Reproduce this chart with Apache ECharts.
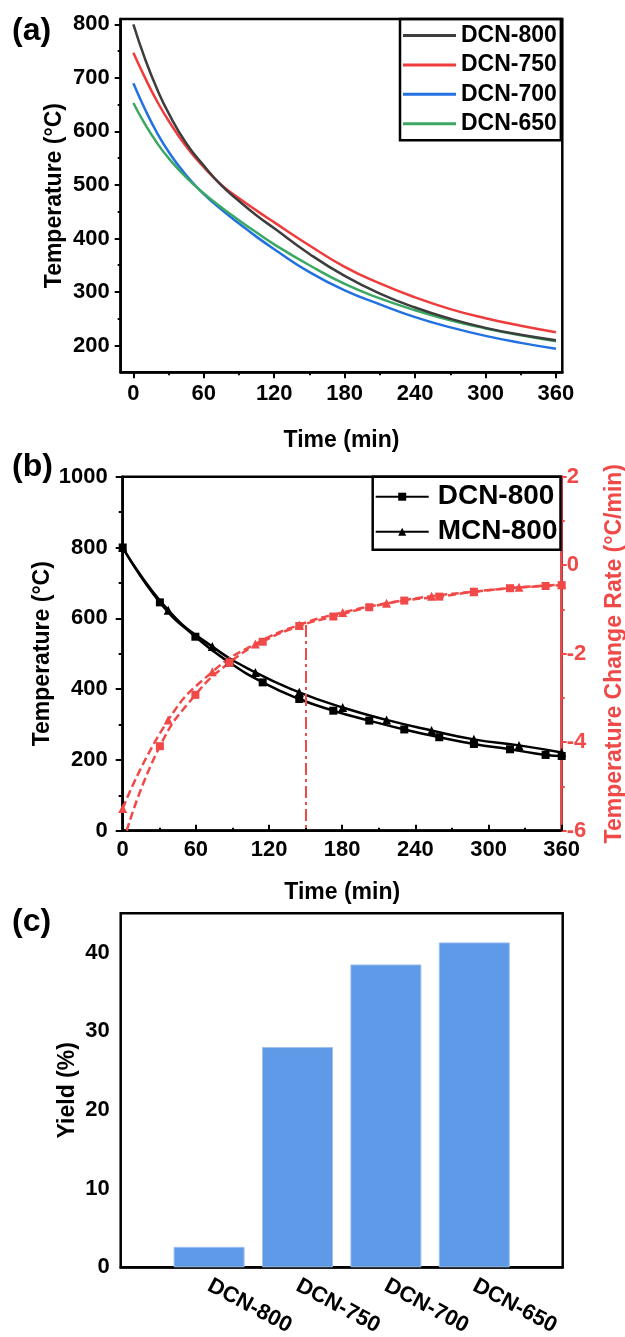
<!DOCTYPE html>
<html>
<head>
<meta charset="utf-8">
<script src="https://cdn.jsdelivr.net/npm/echarts@6/dist/echarts.min.js"></script>
<style>
  html, body { margin: 0; padding: 0; background: #fff; }
  #chart { width: 625px; height: 1337px; }
</style>
</head>
<body>
<div id="chart"></div>
<script>
// ---- (a) cooling curves ----
const timeA = [0, 10, 20, 30, 45, 60, 75, 90, 105, 120, 150, 180, 210, 240, 270, 300, 330, 360];
const dcn800A = [800, 735, 680, 634, 578, 536, 499, 470, 443, 419, 371, 330, 297, 271, 250, 233, 220, 210];
const dcn750A = [747, 700, 657, 620, 572, 533, 500, 475, 452, 430, 387, 347, 316, 290, 268, 251, 237, 225];
const dcn700A = [690, 641, 598, 562, 518, 483, 454, 428, 403, 380, 337, 303, 277, 253, 234, 218, 205, 194];
const dcn650A = [653, 613, 579, 550, 514, 484, 458, 434, 411, 389, 350, 315, 288, 266, 247, 232, 219, 208];
const namesA = ['DCN-800', 'DCN-750', 'DCN-700', 'DCN-650'];
const xTicksA = [0, 60, 120, 180, 240, 300, 360];
const xMinorA = [30, 90, 150, 210, 270, 330];
const yTicksA = [200, 300, 400, 500, 600, 700, 800];
const yMinorA = [250, 350, 450, 550, 650, 750];

// ---- (b) DCN-800 vs MCN-800 ----
const timeDcnB = [0, 30.5, 59.6, 87.6, 114.8, 144.8, 172.7, 202.2, 230.9, 259.6, 288, 317.6, 346.8, 360];
const dcnTempB = [800, 645, 548, 475, 419, 372, 339, 311, 286, 264, 245, 230, 214, 211];
const timeMcnB = [0, 37.3, 73.5, 108.8, 144.8, 180.4, 216.4, 253.3, 288, 325, 360];
const mcnTempB = [800, 623, 520, 447, 391, 348, 313, 283, 258, 241, 221];
const timeDcnRateB = [3.3, 30.5, 59.6, 87.6, 114.8, 144.8, 172.7, 202.2, 230.9, 259.6, 288, 317.6, 346.8, 360];
const dcnRateB = [-6, -4.09, -2.93, -2.2, -1.73, -1.375, -1.16, -0.95, -0.8, -0.71, -0.6, -0.52, -0.47, -0.45];
const mcnRateB = [-5.5, -3.5, -2.41, -1.78, -1.35, -1.07, -0.86, -0.7, -0.6, -0.5, -0.44];
const markTimeB = 150;
const markRateB = -1.35;

// ---- (c) yield ----
const yieldNames = ['DCN-800', 'DCN-750', 'DCN-700', 'DCN-650'];
const yieldVals = [2.6, 28.0, 38.5, 41.3];
const yTicksC = [0, 10, 20, 30, 40];
const yMinorC = [5, 15, 25, 35];

const FONT = '"Liberation Sans", Arial, sans-serif';
const RED = '#f14848';
const colorsA = ['#3d3d3d', '#ef3b3b', '#2271e3', '#3aa862'];

function txt(size, color) {
  return { fontFamily: FONT, fontWeight: 'bold', fontSize: size, color: color || '#000' };
}
function zip(xs, ys) {
  return xs.map((x, i) => [x, ys[i]]);
}
const plain = v => String(v);
const axisLine = { onZero: false, lineStyle: { color: '#000', width: 2.5 } };
const tickStyle = { color: '#000', width: 2 };

function minorAxis(gridIndex, position, min, max, values) {
  return {
    gridIndex, position, type: 'value', min, max,
    axisLine: { show: false, onZero: false },
    axisTick: { customValues: values, length: 3, lineStyle: tickStyle },
    axisLabel: { show: false },
    splitLine: { show: false }
  };
}
function gridBox(left, top, width, height) {
  return {
    left, top, width, height, show: true, borderColor: '#000', borderWidth: 2.5,
    outerBoundsMode: 'none', containLabel: false
  };
}

const chart = echarts.init(document.getElementById('chart'));

const seriesA = [dcn800A, dcn750A, dcn700A, dcn650A].map((vals, i) => ({
  type: 'line',
  name: namesA[i],
  xAxisIndex: 0,
  yAxisIndex: 0,
  data: zip(timeA, vals),
  smooth: true,
  symbol: 'none',
  color: colorsA[i],
  lineStyle: { width: 2.5, color: colorsA[i] },
  z: 3 + (i === 0 ? 1 : 0)
}));

const rateDcnData = zip(timeDcnRateB, dcnRateB).map((p, i) =>
  i === 0 ? { value: p, symbol: 'none' } : p);

chart.setOption({
  animation: false,
  backgroundColor: '#fff',
  graphic: [
    { type: 'text', x: 12, y: 31, style: { text: '(a)', font: 'bold 32px ' + FONT, fill: '#000', verticalAlign: 'middle' } },
    { type: 'text', x: 12, y: 467, style: { text: '(b)', font: 'bold 32px ' + FONT, fill: '#000', verticalAlign: 'middle' } },
    { type: 'text', x: 12, y: 922, style: { text: '(c)', font: 'bold 32px ' + FONT, fill: '#000', verticalAlign: 'middle' } }
  ],
  grid: [
    gridBox(120.7, 19, 441.6, 353.3),
    gridBox(122.7, 476.7, 439, 354),
    gridBox(120.7, 913.3, 442, 354)
  ],
  legend: [
    {
      left: 400, top: 19, orient: 'vertical', selectedMode: false,
      data: namesA, icon: 'rect', itemWidth: 53, itemHeight: 3, itemGap: 6.4,
      padding: [5, 4, 5, 3], borderColor: '#000', borderWidth: 2.5,
      textStyle: txt(23)
    },
    {
      left: 372.7, top: 476.7, orient: 'vertical', selectedMode: false,
      data: ['DCN-800 (b)', 'MCN-800 (b)'],
      formatter: n => n.replace(' (b)', ''),
      itemWidth: 53, itemHeight: 10, itemGap: 7,
      padding: [6, 3, 4, 2], borderColor: '#000', borderWidth: 2.5,
      backgroundColor: '#fff',
      textStyle: Object.assign(txt(28), { padding: [0, 0, 0, 4] })
    }
  ],
  xAxis: [
    {
      gridIndex: 0, position: 'bottom', type: 'value', min: -10.8, max: 365.4,
      axisLine,
      axisTick: { customValues: xTicksA, length: 6, lineStyle: tickStyle },
      axisLabel: Object.assign({ customValues: xTicksA, margin: 11, formatter: plain }, txt(22)),
      splitLine: { show: false },
      name: 'Time (min)', nameLocation: 'middle', nameGap: 57, nameMoveOverlap: false,
      nameTextStyle: txt(23)
    },
    minorAxis(0, 'bottom', -10.8, 365.4, xMinorA),
    {
      gridIndex: 1, position: 'bottom', type: 'value', min: 0, max: 360, interval: 60,
      axisLine,
      axisTick: { inside: true, length: 6, lineStyle: tickStyle },
      minorTick: { show: true, splitNumber: 2, length: 3, lineStyle: tickStyle },
      axisLabel: Object.assign({ margin: 8, formatter: plain }, txt(22)),
      splitLine: { show: false },
      name: 'Time (min)', nameLocation: 'middle', nameGap: 50, nameMoveOverlap: false,
      nameTextStyle: txt(23)
    },
    {
      gridIndex: 2, position: 'bottom', type: 'category', boundaryGap: false,
      data: [''].concat(yieldNames, ['']),
      axisLine,
      axisTick: { show: false },
      axisLabel: Object.assign({ rotate: -28, margin: 17, interval: 0 }, txt(22)),
      splitLine: { show: false }
    }
  ],
  yAxis: [
    {
      gridIndex: 0, position: 'left', type: 'value', min: 150, max: 810,
      axisLine,
      axisTick: { customValues: yTicksA, length: 6, lineStyle: tickStyle },
      axisLabel: Object.assign({ customValues: yTicksA, margin: 11, formatter: plain }, txt(22)),
      splitLine: { show: false },
      name: 'Temperature (°C)', nameLocation: 'middle', nameGap: 55, nameMoveOverlap: false,
      nameTextStyle: txt(23)
    },
    minorAxis(0, 'left', 150, 810, yMinorA),
    {
      gridIndex: 1, position: 'left', type: 'value', min: 0, max: 1000, interval: 200,
      axisLine,
      axisTick: { length: 7, lineStyle: tickStyle },
      minorTick: { show: true, splitNumber: 2, length: 4, lineStyle: tickStyle },
      axisLabel: Object.assign({ margin: 15, formatter: plain }, txt(22)),
      splitLine: { show: false },
      name: 'Temperature (°C)', nameLocation: 'middle', nameGap: 69, nameMoveOverlap: false,
      nameTextStyle: txt(23)
    },
    {
      gridIndex: 1, position: 'right', type: 'value', min: -6, max: 2, interval: 2,
      axisLine: { onZero: false, lineStyle: { color: RED, width: 2.5 } },
      axisTick: { length: 5, lineStyle: { color: RED, width: 2 } },
      minorTick: { show: true, splitNumber: 2, length: 3, lineStyle: { color: RED, width: 2 } },
      axisLabel: Object.assign({ margin: 5, formatter: plain }, txt(22, RED)),
      splitLine: { show: false },
      name: 'Temperature Change Rate (°C/min)', nameLocation: 'middle', nameGap: 41,
      nameMoveOverlap: false, nameTextStyle: txt(23, RED)
    },
    {
      gridIndex: 2, position: 'left', type: 'value', min: 0, max: 45,
      axisLine,
      axisTick: { customValues: yTicksC, length: 6, lineStyle: tickStyle },
      axisLabel: Object.assign({ customValues: yTicksC, margin: 11, formatter: plain }, txt(22)),
      splitLine: { show: false },
      name: 'Yield (%)', nameLocation: 'middle', nameGap: 42, nameMoveOverlap: false,
      nameTextStyle: txt(23)
    },
    minorAxis(2, 'left', 0, 45, yMinorC)
  ],
  series: seriesA.concat([
    {
      type: 'line', name: 'DCN-800 (b)', xAxisIndex: 2, yAxisIndex: 2,
      data: zip(timeDcnB, dcnTempB), smooth: true,
      symbol: 'rect', symbolSize: 8, color: '#000',
      lineStyle: { width: 2.5, color: '#000' }
    },
    {
      type: 'line', name: 'MCN-800 (b)', xAxisIndex: 2, yAxisIndex: 2,
      data: zip(timeMcnB, mcnTempB), smooth: true,
      symbol: 'triangle', symbolSize: 9, color: '#000',
      lineStyle: { width: 2.5, color: '#000' }
    },
    {
      type: 'line', name: 'DCN-800 rate', xAxisIndex: 2, yAxisIndex: 3,
      data: rateDcnData, smooth: true,
      symbol: 'rect', symbolSize: 8, color: RED,
      lineStyle: { width: 2.5, color: RED, type: [8, 4] },
      markLine: {
        silent: true, symbol: 'none', label: { show: false },
        lineStyle: { color: RED, width: 2, type: [12, 4, 3, 4] },
        data: [[{ coord: [markTimeB, markRateB] }, { coord: [markTimeB, -6] }]]
      }
    },
    {
      type: 'line', name: 'MCN-800 rate', xAxisIndex: 2, yAxisIndex: 3,
      data: zip(timeMcnB, mcnRateB), smooth: true,
      symbol: 'triangle', symbolSize: 9, color: RED,
      lineStyle: { width: 2.5, color: RED, type: [8, 4] }
    },
    {
      type: 'bar', name: 'Yield', xAxisIndex: 3, yAxisIndex: 4,
      data: [null].concat(yieldVals, [null]),
      barWidth: 71,
      itemStyle: { color: '#5e9ae8', borderColor: '#9cc0f0', borderWidth: 1 }
    }
  ])
});
</script>
</body>
</html>
